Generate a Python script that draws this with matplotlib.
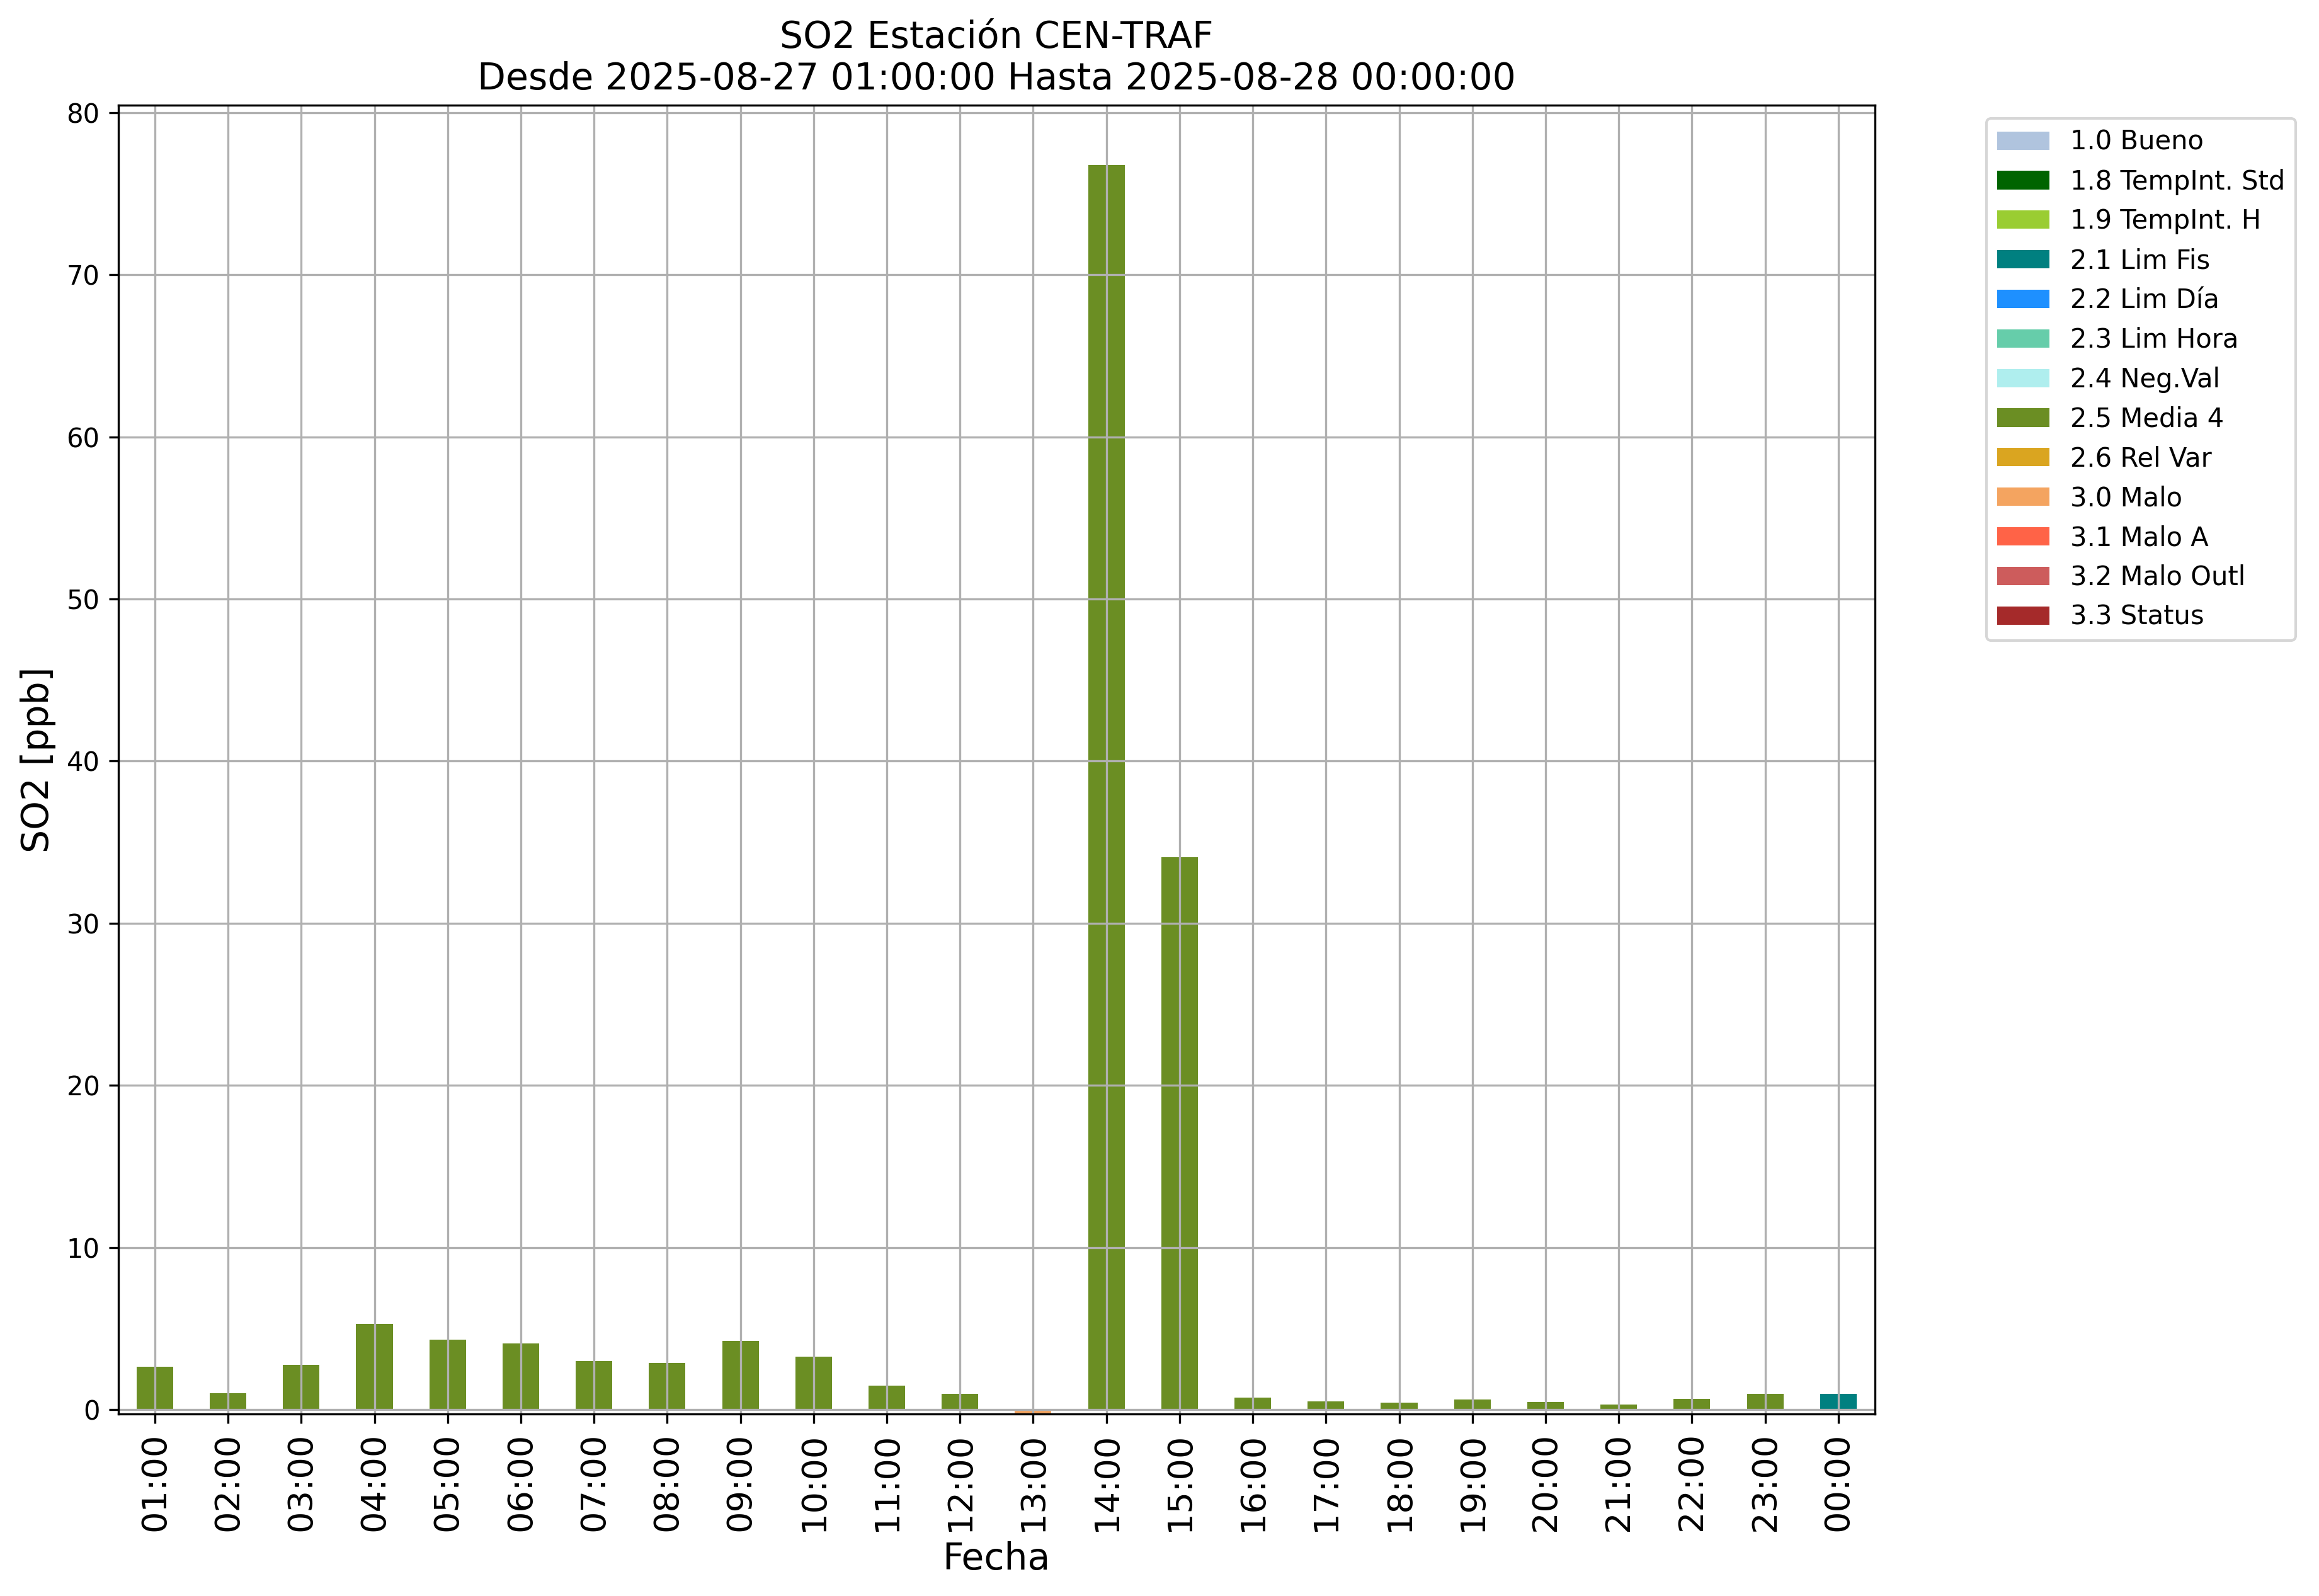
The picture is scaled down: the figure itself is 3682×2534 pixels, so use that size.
import matplotlib
matplotlib.use('Agg')
import matplotlib.pyplot as plt
import numpy as np

# --- datos ---
horas = ['01:00', '02:00', '03:00', '04:00', '05:00', '06:00', '07:00', '08:00',
         '09:00', '10:00', '11:00', '12:00', '13:00', '14:00', '15:00', '16:00',
         '17:00', '18:00', '19:00', '20:00', '21:00', '22:00', '23:00', '00:00']
so2 = [2.65, 1.01, 2.76, 5.29, 4.32, 4.09, 3.00, 2.88, 4.24, 3.27, 1.48, 0.97,
       -0.25, 76.76, 34.06, 0.74, 0.51, 0.43, 0.62, 0.47, 0.31, 0.66, 0.97, 0.97]
flags = ['2.5 Media 4'] * 12 + ['3.0 Malo'] + ['2.5 Media 4'] * 10 + ['2.1 Lim Fis']

categorias = ['1.0 Bueno', '1.8 TempInt. Std', '1.9 TempInt. H', '2.1 Lim Fis',
              '2.2 Lim Día', '2.3 Lim Hora', '2.4 Neg.Val', '2.5 Media 4',
              '2.6 Rel Var', '3.0 Malo', '3.1 Malo A', '3.2 Malo Outl', '3.3 Status']
colores = ['lightsteelblue', 'darkgreen', 'yellowgreen', 'teal', 'dodgerblue',
           'mediumaquamarine', 'paleturquoise', 'olivedrab', 'goldenrod',
           'sandybrown', 'tomato', 'indianred', 'brown']

fig = plt.figure(figsize=(3682 / 300, 2534 / 300), dpi=300)
ax = fig.add_axes([0.051, 0.114, 0.7575, 0.82])

x = np.arange(len(horas))
valores = np.array(so2)
pos_bottom = np.zeros(len(horas))
neg_bottom = np.zeros(len(horas))

# barras apiladas por bandera de calidad
for cat, col in zip(categorias, colores):
    h = np.array([v if f == cat else 0.0 for v, f in zip(valores, flags)])
    bottom = np.where(h >= 0, pos_bottom, neg_bottom)
    ax.bar(x, h, width=0.5, bottom=bottom, color=col, label=cat)
    pos_bottom += np.where(h > 0, h, 0)
    neg_bottom += np.where(h < 0, h, 0)

ax.set_xticks(x)
ax.set_xticklabels(horas, rotation=90, fontsize=13)
ax.tick_params(axis='y', labelsize=10)
ax.set_xlim(-0.5, len(horas) - 0.5)
ax.set_ylim(-0.28, 80.45)
ax.grid(True)

ax.set_xlabel('Fecha', fontsize=14)
ax.set_ylabel('SO2 [ppb]', fontsize=14)
ax.set_title('SO2 Estación CEN-TRAF\nDesde 2025-08-27 01:00:00 Hasta 2025-08-28 00:00:00',
             fontsize=14)

ax.legend(loc='upper left', bbox_to_anchor=(1.056, 1), fontsize=10)

fig.savefig('out.png', dpi=300)
plt.close(fig)
